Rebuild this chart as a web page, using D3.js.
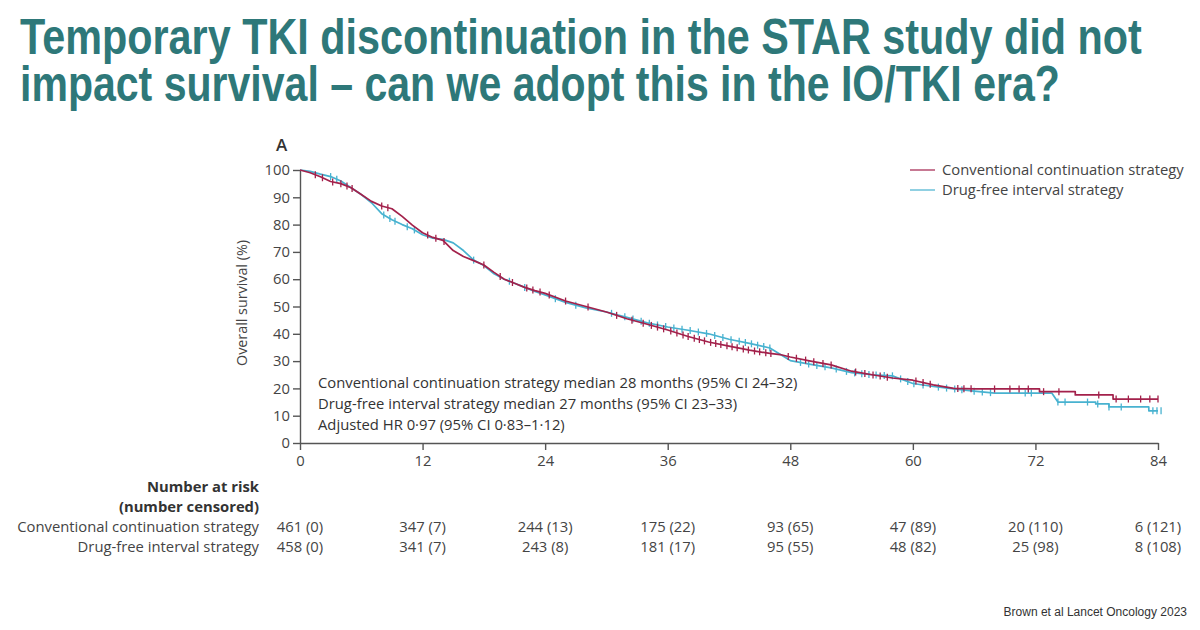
<!DOCTYPE html>
<html><head><meta charset="utf-8">
<script src="https://cdn.jsdelivr.net/npm/d3@7"></script>
<style>body{margin:0;background:#fff;} svg{display:block;}</style>
</head><body><svg id="c" width="1200" height="630"></svg>
<script>
const titleLines = [
  "Temporary TKI discontinuation in the STAR study did not",
  "impact survival \u2013 can we adopt this in the IO/TKI era?"
];
const seriesNames = ["Conventional continuation strategy", "Drug-free interval strategy"];
const seriesColors = ["#a3214b", "#48b2d0"];

const convTime = [0,1,2,3,4,5,6,7,8,9,10,11,12,13,14,15,16,17,18,19,20,21,22,23,24,26,28,30,32,34,36,38,40,42,44,46,47,48,50,52,54,56,58,60,62,64,66,68,72.4,72.4,75.9,75.9,79.6,79.6,84];
const convSurv = [100,99,97.5,95.8,95,93.5,91,88.5,86.8,85.8,83,79.8,77,75.3,74.2,70.5,68.3,66.8,65.2,62.5,60,58.5,57,55.8,54.8,52,50,48,45.5,43.5,41.4,39,37,35.5,34,32.8,32.4,31.5,30,28.6,26.3,25,23.8,23,21.3,20,19.8,19.8,19.8,18.8,18.8,17.6,17.6,16.1,16.1];

const dfiTime = [0,1,2,3,4,5,6,7,8,9,10,11,12,13,14,15,16,17,18,19,20,21,22,23,24,26,28,30,32,34,36,38,40,42,44,46,48,50,52,54,56,58,60,62,64,66,68,73.6,74.2,77.9,77.9,79.2,79.2,83.1,83.1,84];
const dfiSurv = [100,99.5,98.5,97.6,96,93.5,91,88,84,81.8,80,78.5,76.3,75,74.6,73.3,70.5,67,65,62,60,58.5,57,55.5,54.2,51.5,49.5,48,46,44,42.5,41.3,40,38,36.5,34.8,30.2,28.8,27.5,25.8,25,24.6,21.8,20.7,19.8,19,18.3,18.3,15,15,14.3,14.3,13.2,13.2,11.8,11.8];

const convCensor = [1.5,2.2,3.2,4,4.6,5.1,8,8.6,12.5,13.3,14.1,18,19.6,20.8,22.2,22.8,23.5,24.4,26,28.2,31,32.5,33.6,34.4,35,35.6,36.3,36.9,37.5,38,38.6,39.1,39.6,40.2,40.7,41.2,41.8,42.3,42.8,43.4,43.9,44.5,45,45.6,46.1,47.8,48.6,49.5,50.3,51.2,52,54.4,55.3,56.1,56.8,57.5,60.3,61,61.7,64.4,65,65.7,68,69.5,70.4,71.3,72.8,74.3,78.2,79.9,81.1,82.3,83.2,84];
const dfiCensor = [3,3.6,8.2,8.8,9.3,10.5,11.2,17,20.5,22,25,27,30.5,31.8,32.6,33.4,34.2,35,35.8,36.6,37.4,38.2,39,39.8,40.6,41.4,42.2,43,43.6,44.2,44.8,45.4,46,49,49.8,50.6,51.4,52.5,53.5,54.3,55,55.7,56.4,57.2,58,58.8,59.5,60.1,61,62.5,63.3,64.1,64.8,66,66.8,67.6,71,71.6,74.2,74.9,77.1,78.1,79.2,80.4,83.5,83.9,84.3];

const xTicks = [0,12,24,36,48,60,72,84];
const yTicks = [0,10,20,30,40,50,60,70,80,90,100];
const riskConv = ["461 (0)","347 (7)","244 (13)","175 (22)","93 (65)","47 (89)","20 (110)","6 (121)"];
const riskDfi  = ["458 (0)","341 (7)","243 (8)","181 (17)","95 (55)","48 (82)","25 (98)","8 (108)"];
const annotations = [
  "Conventional continuation strategy median 28 months (95% CI  24\u201332)",
  "Drug-free interval strategy median 27 months (95% CI  23\u201333)",
  "Adjusted HR 0\u00b797 (95% CI 0\u00b783\u20131\u00b712)"
];
const sourceText = "Brown et al Lancet Oncology 2023";

const svg = d3.select("#c");
const FONT = "'Open Sans', Lato, sans-serif";
const FS = 14.8;

// Title: natural width measured, then compressed horizontally to the target width
const titleTargets = [1122, 1040];
svg.append("g").selectAll("text").data(titleLines).join("text")
  .attr("x", 0).attr("y", 0)
  .attr("font-family", "'Liberation Sans', Arial, sans-serif")
  .attr("font-weight", "bold").attr("font-size", 50)
  .attr("fill", "#2e7879").text(d => d)
  .each(function (d, i) {
    const w = this.getComputedTextLength();
    d3.select(this).attr("transform", `translate(20,${54 + i * 47}) scale(${titleTargets[i] / w},1)`);
  });

const x = d3.scaleLinear().domain([0, 84]).range([300, 1158]);
const y = d3.scaleLinear().domain([0, 100]).range([443, 170]);

// Axes
const yAxis = svg.append("g").attr("transform", "translate(300,0)")
  .call(d3.axisLeft(y).tickValues(yTicks).tickSize(7).tickSizeOuter(0).tickPadding(3));
const xAxis = svg.append("g").attr("transform", "translate(0,443)")
  .call(d3.axisBottom(x).tickValues(xTicks).tickSize(7).tickSizeOuter(0).tickPadding(5));
[yAxis, xAxis].forEach(g => {
  g.selectAll("path,line").attr("stroke", "#555").attr("stroke-width", 1.4);
  g.selectAll("text").attr("font-family", FONT).attr("font-size", 14.8).attr("fill", "#444");
});

svg.append("text").attr("x", 276).attr("y", 151).attr("font-family", FONT)
  .attr("font-size", 17).attr("font-weight", "600").attr("fill", "#333").text("A");

svg.append("text").attr("transform", "translate(247,303) rotate(-90)")
  .attr("text-anchor", "middle").attr("font-family", FONT).attr("font-size", 14.3)
  .attr("fill", "#444").text("Overall survival (%)");

// Curves
const series = [
  { t: convTime, s: convSurv, c: convCensor, color: seriesColors[0] },
  { t: dfiTime, s: dfiSurv, c: dfiCensor, color: seriesColors[1] }
];
function survAt(ser, t) {
  let i = d3.bisectRight(ser.t, t) - 1;
  if (i < 0) i = 0;
  if (i >= ser.t.length - 1) return ser.s[ser.t.length - 1];
  const t0 = ser.t[i], t1 = ser.t[i + 1];
  if (t1 === t0) return ser.s[i + 1];
  return ser.s[i] + (ser.s[i + 1] - ser.s[i]) * (t - t0) / (t1 - t0);
}
const line = d3.line().x(d => x(d[0])).y(d => y(d[1])).curve(d3.curveLinear);
[1, 0].forEach(k => {
  const ser = series[k];
  const pts = ser.t.map((t, i) => [t, ser.s[i]]);
  svg.append("path").datum(pts).attr("d", line).attr("fill", "none")
    .attr("stroke", ser.color).attr("stroke-width", 1.7).attr("stroke-linejoin", "round");
  svg.append("g").selectAll("line").data(ser.c).join("line")
    .attr("x1", d => x(d)).attr("x2", d => x(d))
    .attr("y1", d => y(survAt(ser, d)) - 3.5).attr("y2", d => y(survAt(ser, d)) + 3.5)
    .attr("stroke", ser.color).attr("stroke-width", 1.3);
});

// Legend
const lg = svg.append("g");
seriesNames.forEach((n, i) => {
  lg.append("line").attr("x1", 910).attr("x2", 935).attr("y1", 170 + i * 20).attr("y2", 170 + i * 20)
    .attr("stroke", seriesColors[i]).attr("stroke-width", 1.6).attr("opacity", 0.75);
  lg.append("text").attr("x", 942).attr("y", 175 + i * 20).attr("font-family", FONT)
    .attr("font-size", FS).attr("fill", "#444").text(n);
});

// Annotations
svg.append("g").selectAll("text").data(annotations).join("text")
  .attr("x", 318).attr("y", (d, i) => 388 + i * 21)
  .attr("font-family", FONT).attr("font-size", FS).attr("fill", "#333").text(d => d);

// Number at risk
const hdr = ["Number at risk", "(number censored)"];
svg.append("g").selectAll("text").data(hdr).join("text")
  .attr("x", 259).attr("y", (d, i) => 492 + i * 20).attr("text-anchor", "end")
  .attr("font-family", FONT).attr("font-size", FS).attr("font-weight", "bold").attr("fill", "#333").text(d => d);
[riskConv, riskDfi].forEach((row, r) => {
  const yy = 532 + r * 20;
  svg.append("text").attr("x", 259).attr("y", yy).attr("text-anchor", "end")
    .attr("font-family", FONT).attr("font-size", FS).attr("fill", "#444").text(seriesNames[r]);
  svg.append("g").selectAll("text").data(row).join("text")
    .attr("x", (d, i) => x(xTicks[i])).attr("y", yy).attr("text-anchor", "middle")
    .attr("font-family", FONT).attr("font-size", FS).attr("fill", "#444").text(d => d);
});

svg.append("text").attr("x", 1187).attr("y", 616).attr("text-anchor", "end")
  .attr("font-family", "'Liberation Sans', Arial, sans-serif").attr("font-size", 12)
  .attr("fill", "#333").text(sourceText);
</script></body></html>
